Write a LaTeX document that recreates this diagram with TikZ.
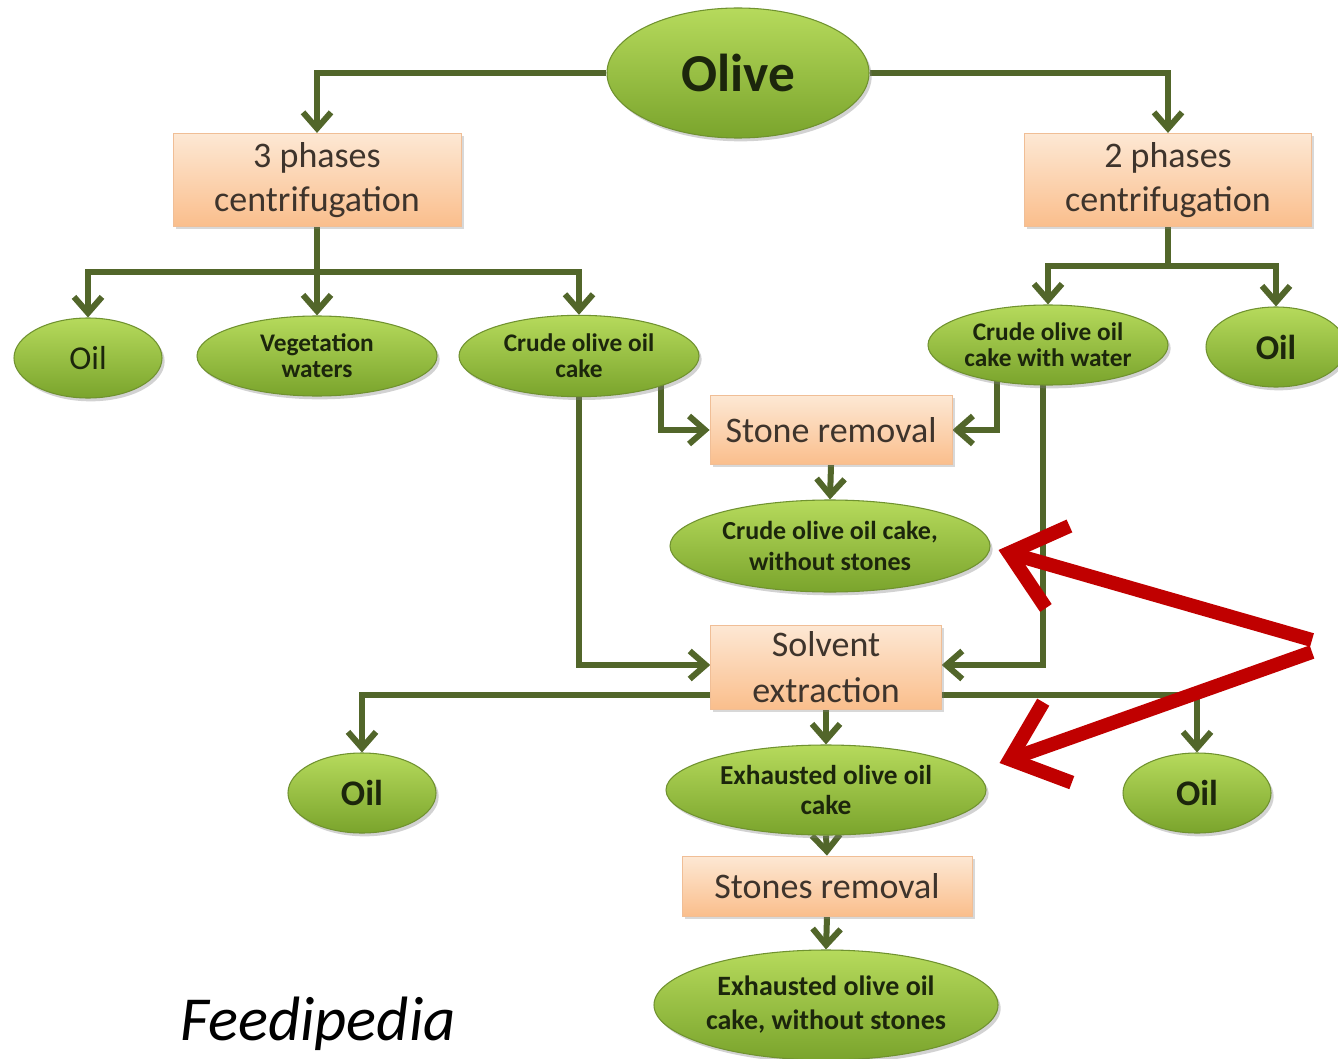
\documentclass[tikz,border=0pt]{standalone}
\usepackage{fontspec}
\setmainfont{Carlito}
\usetikzlibrary{shapes.geometric,arrows.meta,shadows,calc,backgrounds}
\definecolor{lineg}{RGB}{82,102,42}
\definecolor{elltop}{RGB}{182,218,92}
\definecolor{ellbot}{RGB}{122,164,44}
\definecolor{ellrim}{RGB}{112,146,48}
\definecolor{elltext}{RGB}{28,38,12}
\definecolor{boxtop}{RGB}{253,232,212}
\definecolor{boxbot}{RGB}{250,190,140}
\definecolor{boxrim}{RGB}{240,190,150}
\definecolor{boxtext}{RGB}{62,52,44}
\definecolor{redarr}{RGB}{192,0,0}
\begin{document}
\begin{tikzpicture}[x=0.75pt,y=-0.75pt,
  greenell/.style={ellipse, inner sep=0pt, draw=ellrim, line width=0.8pt,
    top color=elltop, bottom color=ellbot, text=elltext, align=center,
    drop shadow={opacity=0.35, shadow xshift=2pt, shadow yshift=-2.5pt}},
  peachbox/.style={rectangle, inner sep=0pt, draw=boxrim, line width=0.6pt,
    top color=boxtop, bottom color=boxbot, text=boxtext, align=center,
    font=\fontsize{27}{33}\selectfont,
    drop shadow={opacity=0.3, shadow xshift=2pt, shadow yshift=-2pt}},
  smalltxt/.style={font=\bfseries\fontsize{19}{19.5}\selectfont},
  arr/.style={draw=lineg, line width=4.5pt, -{Straight Barb[length=12pt,width=21pt]}},
  plain/.style={draw=lineg, line width=4.5pt},
  redline/.style={draw=redarr, line width=10.5pt, -{Straight Barb[length=38pt,width=64pt]}}
]
\useasboundingbox (0,0) rectangle (1338,1059);

% nodes
\node[greenell, minimum width=196.5pt, minimum height=97.5pt,
      font=\bfseries\fontsize{40}{44}\selectfont] (olive) at (738,73) {Olive};
\node[peachbox, minimum width=216pt, minimum height=70pt] (ph3) at (317,180) {3 phases\\centrifugation};
\node[peachbox, minimum width=215pt, minimum height=70pt] (ph2) at (1168,180) {2 phases\\centrifugation};

\node[greenell, minimum width=111pt, minimum height=60pt,
      font=\fontsize{25}{28}\selectfont] (oilA) at (88,358) {Oil};
\node[greenell, smalltxt, minimum width=180pt, minimum height=60pt] (veg) at (317,356) {Vegetation\\waters};
\node[greenell, smalltxt, minimum width=180pt, minimum height=61pt] (crude) at (579,356) {Crude olive oil\\cake};
\node[greenell, smalltxt, minimum width=180pt, minimum height=60pt] (crudew) at (1048,345) {Crude olive oil\\cake with water};
\node[greenell, minimum width=105pt, minimum height=60pt,
      font=\bfseries\fontsize{26}{28}\selectfont] (oilB) at (1276,347) {Oil};

\node[peachbox, minimum width=181.5pt, minimum height=52pt] (stone) at (831,430) {Stone removal};
\node[greenell, minimum width=240pt, minimum height=69pt,
      font=\bfseries\fontsize{19.5}{23}\selectfont] (crudens) at (830,546) {Crude olive oil cake,\\without stones};

\node[peachbox, minimum width=173pt, minimum height=63pt,
      font=\fontsize{27}{34}\selectfont] (solvent) at (826,667) {Solvent\\extraction};
\node[greenell, minimum width=111pt, minimum height=60pt,
      font=\bfseries\fontsize{27}{30}\selectfont] (oilC) at (362,793) {Oil};
\node[greenell, minimum width=111pt, minimum height=60pt,
      font=\bfseries\fontsize{27}{30}\selectfont] (oilD) at (1197,793) {Oil};
\node[greenell, minimum width=240pt, minimum height=67.5pt,
      font=\bfseries\fontsize{20.5}{23}\selectfont] (exh) at (826,790) {Exhausted olive oil\\cake};

\node[peachbox, minimum width=217.5pt, minimum height=45pt] (stones) at (827,886) {Stones removal};
\node[greenell, minimum width=258pt, minimum height=82.5pt,
      font=\bfseries\fontsize{21}{25.5}\selectfont] (exhns) at (826,1005) {Exhausted olive oil\\cake, without stones};

\node[font=\itshape\fontsize{47}{50}\selectfont, text=black] (feed) at (318,1024) {Feedipedia};

% connectors behind the shapes
\begin{pgfonlayer}{background}
\fill[white] (0,0) rectangle (1338,1059);
\draw[arr] (olive.west) -| (ph3.north);
\draw[arr] (olive.east) -| (ph2.north);

\coordinate (j3) at (317,272);
\draw[plain] (ph3.south) -- (j3);
\draw[arr] (j3) -| (oilA.north);
\draw[arr] (j3) -- (veg.north);
\draw[arr] (j3) -| (crude.north);

\coordinate (j2) at (1168,266);
\draw[plain] (ph2.south) -- (j2);
\draw[arr] (j2) -| (crudew.north);
\draw[arr] (j2) -| (oilB.north);

\draw[arr] ($(crude.center)+(82,0)$) |- (stone.west);
\draw[arr] ($(crudew.center)+(-51,0)$) |- (stone.east);
\draw[arr] (stone.south) -- (crudens.north);

\draw[arr] (crude.center) |- ($(solvent.west)+(0,-2)$);
\draw[arr] ($(crudew.center)+(-5,0)$) |- ($(solvent.east)+(0,-2)$);

\draw[arr] ($(solvent.center)+(0,28)$) -| (oilC.north);
\draw[arr] ($(solvent.center)+(0,28)$) -| (oilD.north);
\draw[arr] (solvent.south) -- (exh.north);
\draw[arr] (exh.south) -- (stones.north);
\draw[arr] (stones.south) -- (exhns.north);
\end{pgfonlayer}

% red pointers
\coordinate (rstart) at (1312,646);
\coordinate (rtipA) at ($(crudens.east)+(8,4)$);
\coordinate (rtipB) at ($(exh.east)+(13,-27)$);
\draw[redline] ($(rstart)+(0,-6)$) -- (rtipA);
\draw[redline] ($(rstart)+(0,6)$) -- (rtipB);
\end{tikzpicture}
\end{document}
